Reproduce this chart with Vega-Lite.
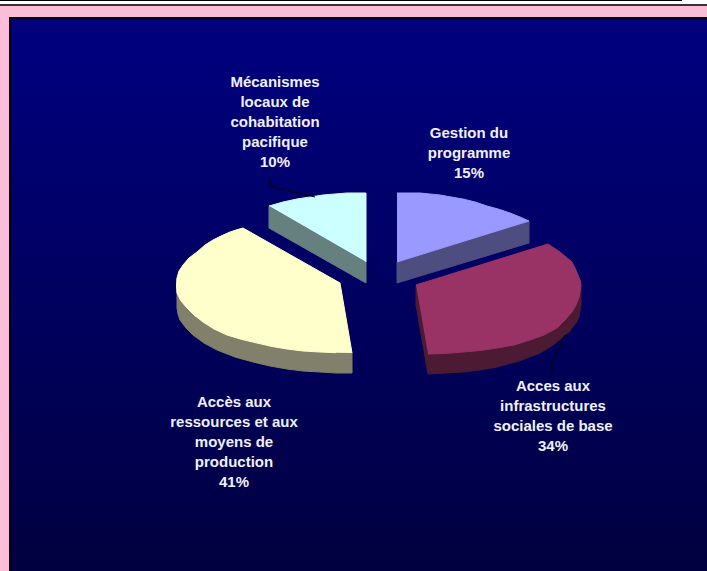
{
"$schema":"https://vega.github.io/schema/vega-lite/v6.json",
"width":707,"height":571,"padding":0,"autosize":{"type":"none"},
"background":"#FBBDD7",
"config":{"view":{"stroke":null},"axis":{"grid":false}},
"datasets":{
"slices":[
{"part":"a blue side","share":15,"i":1,"x":529,"y":221},{"part":"a blue side","share":15,"i":2,"x":529,"y":243},{"part":"a blue side","share":15,"i":3,"x":397,"y":283},{"part":"a blue side","share":15,"i":4,"x":397,"y":262},
{"part":"b blue top","share":15,"i":1,"x":397,"y":193},{"part":"b blue top","share":15,"i":2,"x":408,"y":193},{"part":"b blue top","share":15,"i":3,"x":420,"y":193},{"part":"b blue top","share":15,"i":4,"x":430,"y":194},{"part":"b blue top","share":15,"i":5,"x":440,"y":195},{"part":"b blue top","share":15,"i":6,"x":451,"y":197},{"part":"b blue top","share":15,"i":7,"x":463,"y":199},{"part":"b blue top","share":15,"i":8,"x":475,"y":202},{"part":"b blue top","share":15,"i":9,"x":487,"y":206},{"part":"b blue top","share":15,"i":10,"x":498,"y":209},{"part":"b blue top","share":15,"i":11,"x":510,"y":213},{"part":"b blue top","share":15,"i":12,"x":520,"y":217},{"part":"b blue top","share":15,"i":13,"x":529,"y":221},{"part":"b blue top","share":15,"i":14,"x":397,"y":262},
{"part":"c maroon side","share":34,"i":1,"x":581,"y":285},{"part":"c maroon side","share":34,"i":2,"x":581,"y":305},{"part":"c maroon side","share":34,"i":3,"x":580,"y":311},{"part":"c maroon side","share":34,"i":4,"x":579,"y":317},{"part":"c maroon side","share":34,"i":5,"x":576,"y":323},{"part":"c maroon side","share":34,"i":6,"x":572,"y":328},{"part":"c maroon side","share":34,"i":7,"x":569,"y":332},{"part":"c maroon side","share":34,"i":8,"x":565,"y":335},{"part":"c maroon side","share":34,"i":9,"x":553,"y":345},{"part":"c maroon side","share":34,"i":10,"x":540,"y":353},{"part":"c maroon side","share":34,"i":11,"x":519,"y":361},{"part":"c maroon side","share":34,"i":12,"x":497,"y":367},{"part":"c maroon side","share":34,"i":13,"x":480,"y":370},{"part":"c maroon side","share":34,"i":14,"x":463,"y":372},{"part":"c maroon side","share":34,"i":15,"x":445,"y":373},{"part":"c maroon side","share":34,"i":16,"x":428,"y":374},{"part":"c maroon side","share":34,"i":17,"x":416,"y":305},{"part":"c maroon side","share":34,"i":18,"x":416,"y":285},
{"part":"d maroon top","share":34,"i":1,"x":416,"y":285},{"part":"d maroon top","share":34,"i":2,"x":548,"y":244},{"part":"d maroon top","share":34,"i":3,"x":554,"y":248},{"part":"d maroon top","share":34,"i":4,"x":560,"y":252},{"part":"d maroon top","share":34,"i":5,"x":566,"y":257},{"part":"d maroon top","share":34,"i":6,"x":572,"y":262},{"part":"d maroon top","share":34,"i":7,"x":575,"y":268},{"part":"d maroon top","share":34,"i":8,"x":578,"y":275},{"part":"d maroon top","share":34,"i":9,"x":580,"y":280},{"part":"d maroon top","share":34,"i":10,"x":581,"y":285},{"part":"d maroon top","share":34,"i":11,"x":580,"y":292},{"part":"d maroon top","share":34,"i":12,"x":579,"y":297},{"part":"d maroon top","share":34,"i":13,"x":576,"y":305},{"part":"d maroon top","share":34,"i":14,"x":572,"y":312},{"part":"d maroon top","share":34,"i":15,"x":565,"y":320},{"part":"d maroon top","share":34,"i":16,"x":557,"y":328},{"part":"d maroon top","share":34,"i":17,"x":544,"y":335},{"part":"d maroon top","share":34,"i":18,"x":530,"y":340},{"part":"d maroon top","share":34,"i":19,"x":514,"y":345},{"part":"d maroon top","share":34,"i":20,"x":497,"y":348},{"part":"d maroon top","share":34,"i":21,"x":480,"y":350.5},{"part":"d maroon top","share":34,"i":22,"x":463,"y":352},{"part":"d maroon top","share":34,"i":23,"x":445,"y":353.5},{"part":"d maroon top","share":34,"i":24,"x":428,"y":354},
{"part":"e yellow side","share":41,"i":1,"x":177,"y":278},{"part":"e yellow side","share":41,"i":2,"x":177,"y":308},{"part":"e yellow side","share":41,"i":3,"x":178,"y":314},{"part":"e yellow side","share":41,"i":4,"x":180,"y":320},{"part":"e yellow side","share":41,"i":5,"x":186,"y":328},{"part":"e yellow side","share":41,"i":6,"x":193,"y":335},{"part":"e yellow side","share":41,"i":7,"x":204,"y":343},{"part":"e yellow side","share":41,"i":8,"x":217,"y":350},{"part":"e yellow side","share":41,"i":9,"x":235,"y":357},{"part":"e yellow side","share":41,"i":10,"x":253,"y":362},{"part":"e yellow side","share":41,"i":11,"x":270,"y":366},{"part":"e yellow side","share":41,"i":12,"x":287,"y":369},{"part":"e yellow side","share":41,"i":13,"x":303,"y":371},{"part":"e yellow side","share":41,"i":14,"x":320,"y":372},{"part":"e yellow side","share":41,"i":15,"x":336,"y":373},{"part":"e yellow side","share":41,"i":16,"x":352,"y":373},{"part":"e yellow side","share":41,"i":17,"x":352,"y":353},
{"part":"f yellow top","share":41,"i":1,"x":352,"y":353},{"part":"f yellow top","share":41,"i":2,"x":340,"y":283},{"part":"f yellow top","share":41,"i":3,"x":243,"y":228},{"part":"f yellow top","share":41,"i":4,"x":236,"y":230},{"part":"f yellow top","share":41,"i":5,"x":230,"y":232},{"part":"f yellow top","share":41,"i":6,"x":221,"y":236},{"part":"f yellow top","share":41,"i":7,"x":213,"y":240},{"part":"f yellow top","share":41,"i":8,"x":205,"y":245},{"part":"f yellow top","share":41,"i":9,"x":197,"y":252},{"part":"f yellow top","share":41,"i":10,"x":189,"y":258},{"part":"f yellow top","share":41,"i":11,"x":183,"y":265},{"part":"f yellow top","share":41,"i":12,"x":179,"y":271},{"part":"f yellow top","share":41,"i":13,"x":177,"y":278},{"part":"f yellow top","share":41,"i":14,"x":176.5,"y":286},{"part":"f yellow top","share":41,"i":15,"x":177,"y":293},{"part":"f yellow top","share":41,"i":16,"x":181,"y":301},{"part":"f yellow top","share":41,"i":17,"x":187,"y":308},{"part":"f yellow top","share":41,"i":18,"x":194,"y":315},{"part":"f yellow top","share":41,"i":19,"x":203,"y":322},{"part":"f yellow top","share":41,"i":20,"x":214,"y":329},{"part":"f yellow top","share":41,"i":21,"x":227,"y":335},{"part":"f yellow top","share":41,"i":22,"x":242,"y":339.5},{"part":"f yellow top","share":41,"i":23,"x":257,"y":343},{"part":"f yellow top","share":41,"i":24,"x":272,"y":346.5},{"part":"f yellow top","share":41,"i":25,"x":287,"y":349},{"part":"f yellow top","share":41,"i":26,"x":303,"y":351},{"part":"f yellow top","share":41,"i":27,"x":320,"y":352},{"part":"f yellow top","share":41,"i":28,"x":336,"y":352.7},
{"part":"g cyan side","share":10,"i":1,"x":269,"y":206},{"part":"g cyan side","share":10,"i":2,"x":269,"y":228},{"part":"g cyan side","share":10,"i":3,"x":366,"y":283},{"part":"g cyan side","share":10,"i":4,"x":366,"y":262},
{"part":"h cyan top","share":10,"i":1,"x":366,"y":262},{"part":"h cyan top","share":10,"i":2,"x":366,"y":193},{"part":"h cyan top","share":10,"i":3,"x":356,"y":193},{"part":"h cyan top","share":10,"i":4,"x":347,"y":193},{"part":"h cyan top","share":10,"i":5,"x":335,"y":194},{"part":"h cyan top","share":10,"i":6,"x":323,"y":195},{"part":"h cyan top","share":10,"i":7,"x":310,"y":197},{"part":"h cyan top","share":10,"i":8,"x":297,"y":199},{"part":"h cyan top","share":10,"i":9,"x":283,"y":202},{"part":"h cyan top","share":10,"i":10,"x":269,"y":206}
],
"leaders":[
{"slice":"cyan","i":1,"x":270,"y":177},{"slice":"cyan","i":2,"x":270,"y":186},{"slice":"cyan","i":3,"x":315,"y":197},
{"slice":"maroon","i":1,"x":565,"y":335},{"slice":"maroon","i":2,"x":552,"y":363},{"slice":"maroon","i":3,"x":552,"y":373}
],
"labels":[
{"label":"Mécanismes\nlocaux de\ncohabitation\npacifique\n10%","share":10,"x":275,"y":82},
{"label":"Gestion du\nprogramme\n15%","share":15,"x":469,"y":133},
{"label":"Acces aux\ninfrastructures\nsociales de base\n34%","share":34,"x":553,"y":386},
{"label":"Accès aux\nressources et aux\nmoyens de\nproduction\n41%","share":41,"x":234,"y":402}
]
},
"layer":[
{"data":{"values":[{"x":0,"x2":707,"y":0,"y2":4}]},"mark":{"type":"rect","color":"#FFFFFF"},
 "encoding":{"x":{"field":"x","type":"quantitative","scale":{"domain":[0,707]},"axis":null},"x2":{"field":"x2"},"y":{"field":"y","type":"quantitative","scale":{"domain":[571,0]},"axis":null},"y2":{"field":"y2"}}},
{"data":{"values":[{"x":0,"x2":682,"y":0,"y2":1}]},"mark":{"type":"rect","color":"#000000"},
 "encoding":{"x":{"field":"x","type":"quantitative","scale":{"domain":[0,707]},"axis":null},"x2":{"field":"x2"},"y":{"field":"y","type":"quantitative","scale":{"domain":[571,0]},"axis":null},"y2":{"field":"y2"}}},
{"data":{"values":[{"x":0,"x2":707,"y":4,"y2":6}]},"mark":{"type":"rect","color":"#3A3035"},
 "encoding":{"x":{"field":"x","type":"quantitative","scale":{"domain":[0,707]},"axis":null},"x2":{"field":"x2"},"y":{"field":"y","type":"quantitative","scale":{"domain":[571,0]},"axis":null},"y2":{"field":"y2"}}},
{"data":{"values":[{"x":9,"x2":707,"y":17,"y2":571}]},"mark":{"type":"rect","color":"#00001A"},
 "encoding":{"x":{"field":"x","type":"quantitative","scale":{"domain":[0,707]},"axis":null},"x2":{"field":"x2"},"y":{"field":"y","type":"quantitative","scale":{"domain":[571,0]},"axis":null},"y2":{"field":"y2"}}},
{"data":{"values":[{"x":11,"x2":707,"y":19,"y2":571}]},"mark":{"type":"rect","color":{"gradient":"linear","x1":0,"y1":0,"x2":0,"y2":1,"stops":[{"offset":0,"color":"#000080"},{"offset":1,"color":"#000040"}]}},
 "encoding":{"x":{"field":"x","type":"quantitative","scale":{"domain":[0,707]},"axis":null},"x2":{"field":"x2"},"y":{"field":"y","type":"quantitative","scale":{"domain":[571,0]},"axis":null},"y2":{"field":"y2"}}},
{"data":{"name":"slices"},"mark":{"type":"line","strokeWidth":1,"interpolate":"linear"},
 "encoding":{
  "x":{"field":"x","type":"quantitative","scale":{"domain":[0,707]},"axis":null},
  "y":{"field":"y","type":"quantitative","scale":{"domain":[571,0]},"axis":null},
  "order":{"field":"i"},
  "fill":{"field":"part","type":"nominal","legend":null,"scale":{"domain":["a blue side","b blue top","c maroon side","d maroon top","e yellow side","f yellow top","g cyan side","h cyan top"],"range":["#4D4D80","#9999FF","#4D1A33","#993366","#80806B","#FFFFCC","#668080","#CCFFFF"]}},
  "stroke":{"field":"part","type":"nominal","legend":null,"scale":{"domain":["a blue side","b blue top","c maroon side","d maroon top","e yellow side","f yellow top","g cyan side","h cyan top"],"range":["#4D4D80","#9999FF","#4D1A33","#993366","#80806B","#FFFFCC","#668080","#CCFFFF"]}}
 }},
{"data":{"name":"leaders"},"mark":{"type":"line","color":"#000000","strokeWidth":1},
 "encoding":{
  "x":{"field":"x","type":"quantitative","scale":{"domain":[0,707]},"axis":null},
  "y":{"field":"y","type":"quantitative","scale":{"domain":[571,0]},"axis":null},
  "order":{"field":"i"},"detail":{"field":"slice"}
 }},
{"data":{"name":"labels"},"mark":{"type":"text","font":"Liberation Sans","fontWeight":"bold","fontSize":15,"color":"#F0F0FF","align":"center","baseline":"middle","lineBreak":"\n","lineHeight":20},
 "encoding":{
  "x":{"field":"x","type":"quantitative","scale":{"domain":[0,707]},"axis":null},
  "y":{"field":"y","type":"quantitative","scale":{"domain":[571,0]},"axis":null},
  "text":{"field":"label"}
 }}
]
}
